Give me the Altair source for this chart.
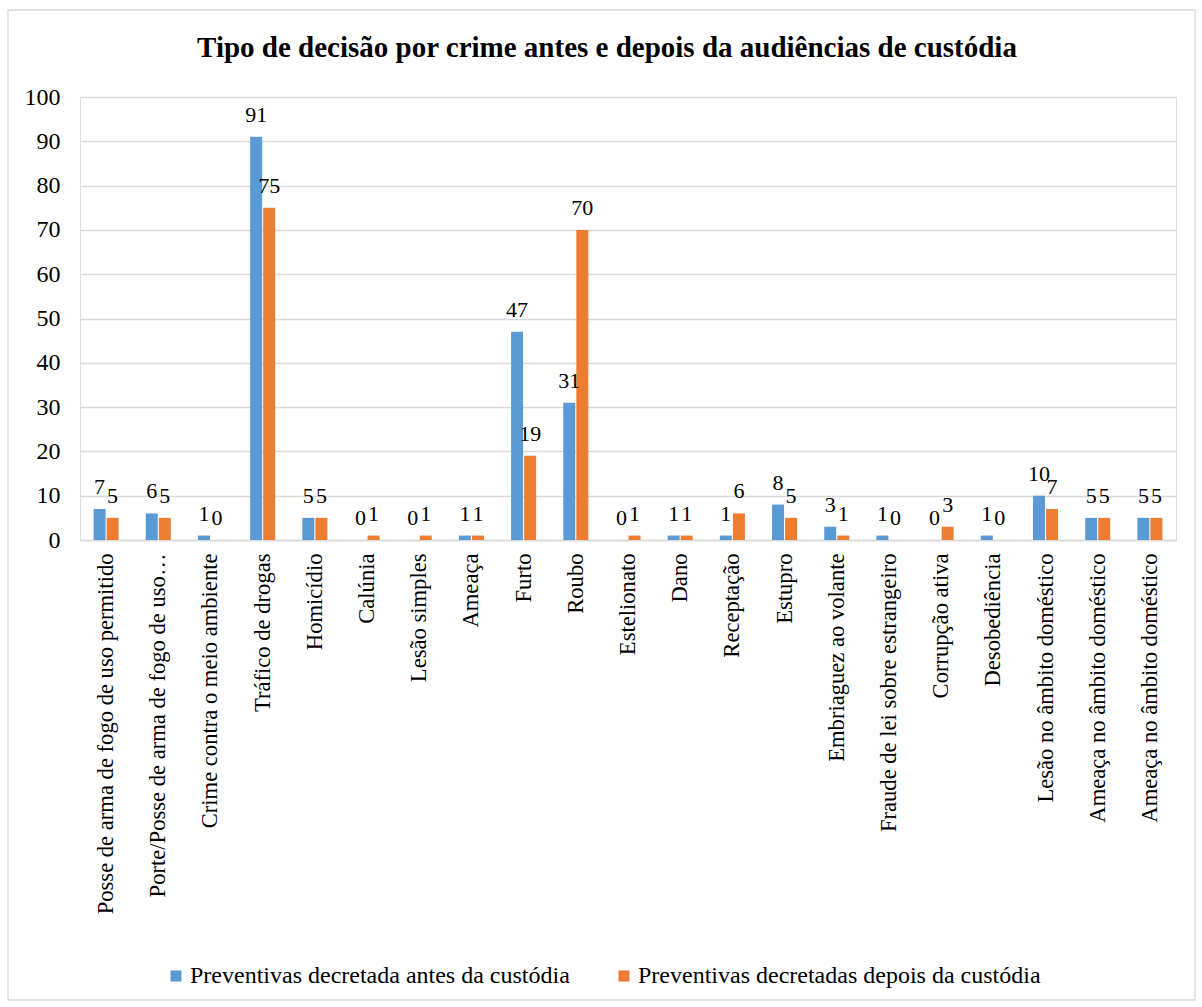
import altair as alt
import pandas as pd

categories = [
    "Posse de arma de fogo de uso permitido",
    "Porte/Posse de arma de fogo de uso…",
    "Crime contra o meio ambiente",
    "Tráfico de drogas",
    "Homicídio",
    "Calúnia",
    "Lesão simples",
    "Ameaça",
    "Furto",
    "Roubo",
    "Estelionato",
    "Dano",
    "Receptação",
    "Estupro",
    "Embriaguez ao volante",
    "Fraude de lei sobre estrangeiro",
    "Corrupção ativa",
    "Desobediência",
    "Lesão no âmbito doméstico",
    "Ameaça no âmbito doméstico",
    "Ameaça no âmbito doméstico",
]
antes = [7, 6, 1, 91, 5, 0, 0, 1, 47, 31, 0, 1, 1, 8, 3, 1, 0, 1, 10, 5, 5]
depois = [5, 5, 0, 75, 5, 1, 1, 1, 19, 70, 1, 1, 6, 5, 1, 0, 3, 0, 7, 5, 5]
series = ["Preventivas decretada antes da custódia",
          "Preventivas decretadas depois da custódia"]
colors = ["#5B9BD5", "#ED7D31"]

rows = []
for i, c in enumerate(categories):
    key = f"{i:02d}|{c}"
    rows.append({"key": key, "serie": series[0], "valor": antes[i]})
    rows.append({"key": key, "serie": series[1], "valor": depois[i]})
df = pd.DataFrame(rows)
order = [f"{i:02d}|{c}" for i, c in enumerate(categories)]

FONT = "Liberation Serif"
W, H = 1096, 443

x = alt.X("key:N", sort=order, title=None,
          scale=alt.Scale(paddingInner=0.52, paddingOuter=0.26),
          axis=alt.Axis(labelExpr="split(datum.value, '|')[1]", labelAngle=-90,
                        labelAlign="right", labelBaseline="middle",
                        labelFontSize=22.6, labelLimit=600, labelPadding=13,
                        ticks=False, domainColor="#D9D9D9", domainWidth=1.3,
                        labelColor="#000000", labelFont=FONT))
xo = alt.XOffset("serie:N", sort=series, scale=alt.Scale(paddingInner=0.08))
y = alt.Y("valor:Q", title=None,
          scale=alt.Scale(domain=[0, 100]),
          axis=alt.Axis(values=list(range(0, 101, 10)), domain=False, ticks=False,
                        labelFontSize=24, labelPadding=20, gridColor="#D9D9D9",
                        gridWidth=1.3, labelColor="#000000", labelFont=FONT))
color = alt.Color("serie:N", sort=series,
                  scale=alt.Scale(domain=series, range=colors),
                  legend=alt.Legend(orient="none", legendX=84, legendY=867,
                                    direction="horizontal", title=None,
                                    symbolType="square", symbolSize=121,
                                    labelFontSize=24, labelFont=FONT, labelColor="#000000",
                                    labelOffset=2, columnPadding=42, labelLimit=800,
                                    symbolStrokeWidth=0))

base = alt.Chart(df)
bars = base.mark_bar().encode(x=x, xOffset=xo, y=y, color=color)
labels = base.mark_text(baseline="alphabetic", dy=-15, fontSize=22, font=FONT,
                        color="#000000").encode(x=x, xOffset=xo, y=y,
                                                text=alt.Text("valor:Q"))

frame = alt.Chart(pd.DataFrame({"f": [0]})).mark_rect(
    fill=None, stroke="#D9D9D9", strokeWidth=1.3, clip=False
).encode(x=alt.value(-72), x2=alt.value(W + 19),
         y=alt.value(-87), y2=alt.value(H + 460))

chart = (frame + bars + labels).properties(
    width=W, height=H,
    autosize=alt.AutoSizeParams(type="none"),
    title=alt.Title("Tipo de decisão por crime antes e depois da audiências de custódia",
                    font=FONT, fontSize=29, fontWeight="bold", color="#000000",
                    anchor="middle", offset=0, dx=-21, dy=54),
    padding={"left": 80, "top": 97, "right": 26, "bottom": 467},
).configure_view(stroke=None).configure(
    background="#FFFFFF", font=FONT
).configure_legend(labelFont=FONT)

chart.save("out.html", embed_options={"renderer": "svg", "actions": False})
